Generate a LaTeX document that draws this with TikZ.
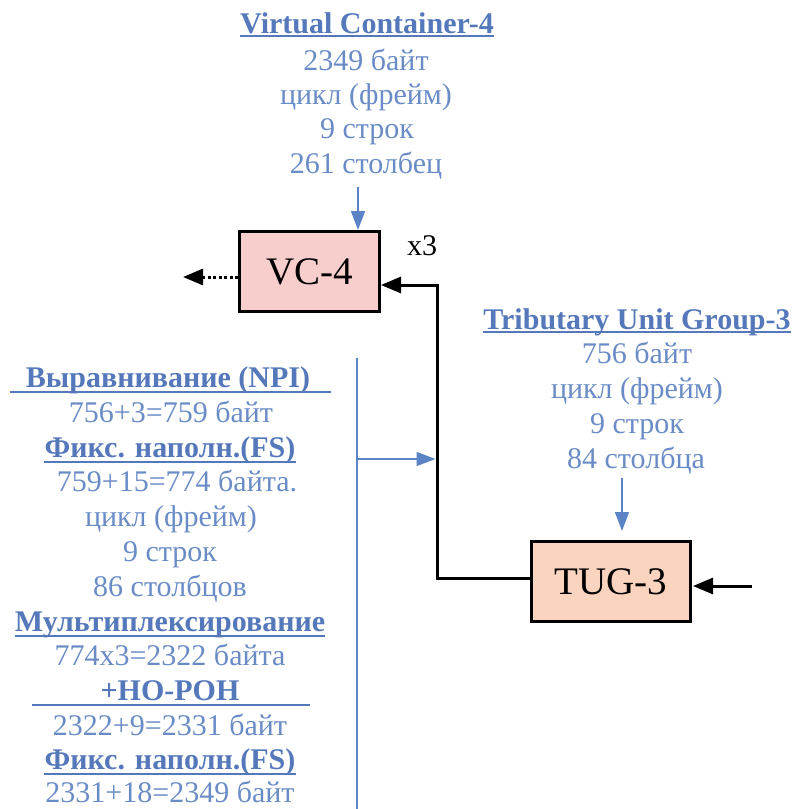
\documentclass[tikz,border=0pt]{standalone}
\usepackage{fontspec}
\setmainfont{Liberation Serif}
\usetikzlibrary{arrows.meta}
\definecolor{tblue}{HTML}{6A8CC6}
\definecolor{tdark}{HTML}{5478BA}
\definecolor{ablue}{HTML}{5B84C6}
\definecolor{vcfill}{HTML}{F8CECC}
\definecolor{tugfill}{HTML}{FAD4BE}
\tikzset{
  txt/.style={font=\fontsize{30}{35}\selectfont, text=tblue, inner sep=0pt, anchor=base},
  ttl/.style={font=\fontsize{30}{35}\selectfont\bfseries, text=tdark, inner sep=0pt, anchor=base},
  box/.style={draw=black, line width=3pt, minimum width=140pt, minimum height=80pt, inner sep=0pt, font=\fontsize{39}{45}\selectfont},
  ulc/.style={draw=tdark, line width=2pt},
  bl/.style={draw=ablue, line width=1.5pt},
  blarr/.style={bl, -{Triangle[length=19pt,width=14pt]}},
  blk/.style={draw=black, line width=3pt, -{Triangle[length=20pt,width=16pt]}},
  dotarr/.style={draw=black, line width=3pt, dash pattern=on 3pt off 2.5pt, -{Triangle[length=20pt,width=16pt]}},
}
\begin{document}
\begin{tikzpicture}[x=1pt,y=-1pt]
\useasboundingbox (0,0) rectangle (795,809);
% top label
\node[ttl] (vt) at (367,33) {Virtual Container-4};
\draw[ulc] ([yshift=-3pt]vt.base west) -- ([yshift=-3pt]vt.base east);
\node[txt] (v1) at (366,70) {2349 байт};
\node[txt] (v2) at (366,104) {цикл (фрейм)};
\node[txt] (v3) at (367,138) {9 строк};
\node[txt] (v4) at (366,173) {261 столбец};
% boxes
\node[box, fill=vcfill] (vc) at (309.5,271.5) {VC-4};
\node[box, fill=tugfill, minimum width=159pt] (tug) at (611,581.5) {TUG-3};
\node[font=\fontsize{30}{35}\selectfont, inner sep=0pt, anchor=base] (x3) at (422,255) {x3};
% top arrow
\coordinate (a1) at (358,187);
\draw[blarr] (a1) -- (a1 |- vc.north);
% output dotted arrow
\coordinate (out) at (183,277);
\draw[dotarr] (vc.west |- out) -- (out);
% TUG label
\node[ttl] (gt) at (637,329) {Tributary Unit Group-3};
\draw[ulc] ([yshift=-3pt]gt.base west) -- ([yshift=-3pt]gt.base east);
\node[txt] (g1) at (637,363) {756 байт};
\node[txt] (g2) at (637,398) {цикл (фрейм)};
\node[txt] (g3) at (637,433) {9 строк};
\node[txt] (g4) at (636,468) {84 столбца};
\coordinate (a2) at (622,478);
\coordinate (a2e) at (622,531);
\draw[blarr] (a2) -- (a2e);
% black connector
\coordinate (b1) at (437,578);
\coordinate (b2) at (437,285);
\draw[blk] (tug.west |- b1) -- (b1) -- (b2) -- (vc.east |- b2);
\coordinate (in) at (752,586);
\draw[blk, shorten >=1pt] (in) -- (tug.east |- in);
% left blue line and arrow
\coordinate (vl1) at (357,358);
\coordinate (vl2) at (357,809);
\draw[bl] (vl1) -- (vl2);
\coordinate (h1) at (357,459);
\draw[blarr, shorten >=1.5pt] (h1) -- (b2 |- h1);
% left text block
\node[ttl] (l0) at (168,387) {Выравнивание (NPI)};
\draw[ulc] ([xshift=-16pt,yshift=-5pt]l0.base west) -- ([xshift=21pt,yshift=-5pt]l0.base east);
\node[txt] (l1) at (171,422) {756+3=759 байт};
\node[ttl] (l2) at (170,457) {Фикс. наполн.(FS)};
\draw[ulc] ([yshift=-5pt]l2.base west) -- ([yshift=-5pt]l2.base east);
\node[txt] (l3) at (177,491) {759+15=774 байта.};
\node[txt] (l4) at (171,526) {цикл (фрейм)};
\node[txt] (l5) at (170,561) {9 строк};
\node[txt] (l6) at (170,596) {86 столбцов};
\node[ttl] (l7) at (170,631) {Мультиплексирование};
\draw[ulc] ([yshift=-5pt]l7.base west) -- ([yshift=-5pt]l7.base east);
\node[txt] (l8) at (170,665) {774x3=2322 байта};
\node[ttl] (l9) at (170,700) {+HO-POH};
\draw[ulc] ([xshift=-68pt,yshift=-5pt]l9.base west) -- ([xshift=70pt,yshift=-5pt]l9.base east);
\node[txt] (l10) at (170,735) {2322+9=2331 байт};
\node[ttl] (l11) at (170,769) {Фикс. наполн.(FS)};
\draw[ulc] ([yshift=-5pt]l11.base west) -- ([yshift=-5pt]l11.base east);
\node[txt] (l12) at (170,802) {2331+18=2349 байт};
\end{tikzpicture}
\end{document}
